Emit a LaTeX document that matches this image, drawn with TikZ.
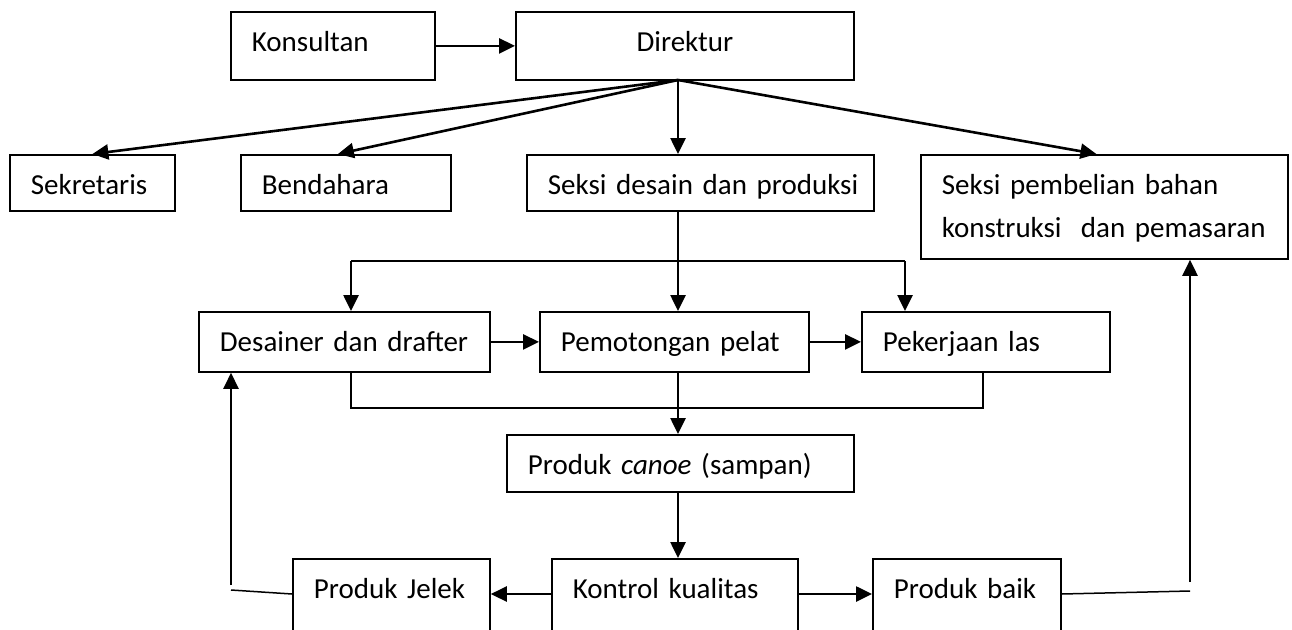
\documentclass[tikz,border=0pt]{standalone}
\usepackage{fontspec}
\setmainfont{Carlito}
\usetikzlibrary{arrows.meta,calc}

\begin{document}
\begin{tikzpicture}[x=1pt,y=-1pt,
  box/.style={draw,line width=1.8pt,anchor=north west,inner xsep=21pt,inner ysep=0pt,
    text height=40pt,align=left,font=\fontsize{29}{43}\selectfont},
  arr/.style={line width=2.6pt,-{Triangle[length=16pt,width=15pt]}},
  link/.style={line width=1.5pt}]
  \useasboundingbox (0,0) rectangle (1292,629);
 % \draw[help lines,step=50] (0,0) grid (1292,629);
  \node[box,text width=162pt,text depth=28pt] (kons) at (230,11) {Konsultan};
  \node[box,align=center,text width=296pt,text depth=28pt] (dir) at (515,11) {Direktur};
  \node[box,text width=123pt,text depth=16pt] (sekr) at (9,154) {\mbox{Sekretaris}};
  \node[box,text width=168pt,text depth=16pt] (bend) at (240,154) {Bendahara};
  \node[box,text width=305pt,text depth=16pt] (desain) at (526,154) {\mbox{Seksi desain dan produksi}};
  \node[box,text width=325pt,text depth=64pt] (beli) at (920,154) {Seksi pembelian bahan\\\mbox{konstruksi\ \ dan pemasaran}};
  \node[box,text width=249pt,text depth=20pt] (drafter) at (198,311) {\mbox{Desainer dan drafter}};
  \node[box,text width=227pt,text depth=20pt] (potong) at (539,311) {\mbox{Pemotongan pelat}};
  \node[box,text width=206pt,text depth=20pt] (las) at (861,311) {Pekerjaan las};
  \node[box,text width=305pt,text depth=17pt] (canoe) at (506,434) {Produk \textit{canoe} (sampan)};
  \node[box,text width=155pt,text depth=60pt] (jelek) at (292,558) {\mbox{Produk Jelek}};
  \node[box,text width=204pt,text depth=60pt] (kontrol) at (551,558) {Kontrol kualitas};
  \node[box,text width=146pt,text depth=60pt] (baik) at (872,558) {\mbox{Produk baik}};

  \draw[arr] (kons) -- (dir);
  \coordinate (fan) at (678,80);
  \draw[arr] (fan) -- (sekr.north);
  \draw[arr] (fan) -- ($(bend.north)+(-8,0)$);
  \draw[arr] (fan) -- (fan |- desain.north);
  \draw[arr] (fan) -- ($(beli.north)+(-8,0)$);
  \draw[link] (desain.south -| fan) -- (fan |- 0,261);

  \coordinate (hubA) at (678,261);
  \coordinate (hubL) at (351,261);
  \coordinate (hubR) at (905,261);
  \draw[link] (hubL) -- (hubR);
  \draw[arr] (hubL) -- (hubL |- drafter.north);
  \draw[arr] (hubA) -- (hubA |- potong.north);
  \draw[arr] (hubR) -- (hubR |- las.north);
  \draw[arr] (drafter) -- (potong);
  \draw[arr] (potong) -- (las);

  \coordinate (mergeL) at (351,408);
  \coordinate (mergeR) at (983,408);
  \draw[link] (mergeL |- drafter.south) -- (mergeL) -- (mergeR) -- (mergeR |- las.south);
  \draw[arr] (hubA |- potong.south) -- (hubA |- canoe.north);
  \draw[arr] (hubA |- canoe.south) -- (hubA |- kontrol.north);

  \coordinate (qc) at (0,594);
  \draw[arr] (kontrol.west |- qc) -- (jelek.east |- qc);
  \draw[arr] (kontrol.east |- qc) -- (baik.west |- qc);

  % way back
  \coordinate (retL) at (231,590);
  \coordinate (retLend) at (231,585);
  \draw[link] (jelek.west |- qc) -- (retL);
  \draw[arr] (retLend) -- (retLend |- drafter.south);
  \coordinate (retR) at (1190,591);
  \coordinate (retRend) at (1190,582);
  \draw[link] (baik.east |- qc) -- (retR);
  \draw[arr] (retRend) -- (retRend |- beli.south);
\end{tikzpicture}
\end{document}
